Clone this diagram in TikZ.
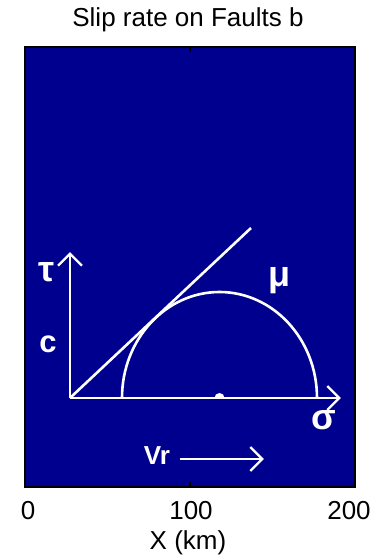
\documentclass[tikz,border=0pt]{standalone}
\usepackage{fontspec}
\setmainfont{Liberation Sans}
\usetikzlibrary{arrows,arrows.meta}
\definecolor{hintergrund}{RGB}{0,0,143}

\begin{document}
\begin{tikzpicture}[x=0.5pt, y=0.5pt,
	linie/.style={white, line width=1.3pt},
	pfeilspitze/.style={-{Straight Barb[length=6pt, width=12pt, line width=1.2pt]}},
	beschriftung/.style={white, font=\fontsize{13}{15}\selectfont\bfseries, inner sep=0pt},
	griechisch/.style={beschriftung, font=\fontsize{18}{20}\selectfont\bfseries},
	achse/.style={black, font=\fontsize{13}{15}\selectfont, inner sep=0pt}]

	\useasboundingbox (0,0) rectangle (380,559);

	% Rahmen
	\filldraw[fill=hintergrund, draw=black, line width=1.1pt] (25,72) rectangle (355,512);
	\foreach \x in {190,355} {
		\draw[black, line width=0.8pt] (\x,72) -- (\x,77);
		\draw[black, line width=0.8pt] (\x,512) -- (\x,507);
	}

	\node[achse] (T) at (188,539) {Slip rate on Faults b};
	\node[achse] (X0) at (28,48) {0};
	\node[achse] (X1) at (191,48) {100};
	\node[achse] (X2) at (349,48) {200};
	\node[achse] (XL) at (188,16) {X (km)};

	% Achsen
	\coordinate (O) at (70,161);
	\coordinate (Tau) at (70,307);
	\coordinate (Sig) at (341,161);
	\coordinate (G) at (251,331);

	\draw[linie, pfeilspitze] (O) -- (Tau);
	\draw[linie, pfeilspitze] (O) -- (Sig);
	\draw[linie] (O) -- (G);

	% Mohr-Kreis
	\coordinate (M) at (219.5,161);
	\draw[linie] (122,161) arc[start angle=180, end angle=0, x radius=97.5, y radius=106];
	\fill[white] (M) ++(5,0) arc[start angle=0, end angle=180, radius=5] -- cycle;

	\node[griechisch] (tau) at (47,287) {τ};
	\node[beschriftung, font=\fontsize{15.5}{17}\selectfont\bfseries] (c) at (48,215) {c};
	\node[griechisch] (mu) at (280,278) {μ};
	\node[griechisch] (sigma) at (324,139) {σ};

	% Bruchgeschwindigkeit
	\node[beschriftung] (Vr) at (157,103) {Vr};
	\coordinate (V1) at (180,100);
	\coordinate (V2) at (264,100);
	\draw[linie, pfeilspitze] (V1) -- (V2);

\end{tikzpicture}
\end{document}
